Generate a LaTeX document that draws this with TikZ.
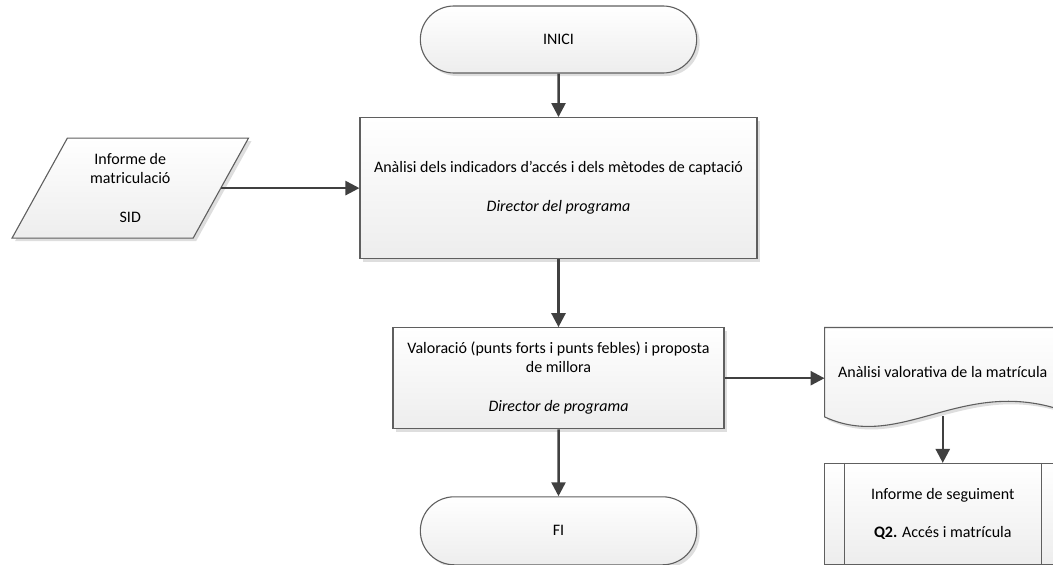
\documentclass[tikz,border=0pt]{standalone}
\usepackage{fontspec}
\setmainfont{Carlito}
\usetikzlibrary{shapes.misc,shapes.geometric,arrows.meta,positioning,shadows,backgrounds}
\definecolor{lineg}{RGB}{95,95,95}
\definecolor{arrowg}{RGB}{64,64,64}

\begin{document}
\begin{tikzpicture}[
    x=1pt, y=1pt,
    font=\fontsize{16}{19.5}\selectfont,
    shapefill/.style={draw=lineg, line width=1.1pt, top color=white, bottom color=black!7,
        drop shadow={shadow xshift=3pt, shadow yshift=-3pt, fill=black, opacity=.13}},
    terminal/.style={rounded rectangle, shapefill, minimum width=283pt, minimum height=67pt},
    block/.style={rectangle, shapefill, text centered, minimum height=101pt},
    data/.style={trapezium, trapezium left angle=63.4, trapezium right angle=116.6,
        trapezium stretches=true, shapefill, align=center, minimum width=237pt, minimum height=100pt},
    arrow/.style={-{Triangle[length=14pt,width=14pt]}, draw=arrowg, line width=2.5pt}
]
\useasboundingbox (0,0) rectangle (1053,-565);
\clip (0,0) rectangle (1053,-565);

\node[terminal] (inici) at (558.5,-39.5) {INICI};
\node[block, below=43.5pt of inici, minimum width=397pt, minimum height=141pt, align=center] (analisi)
    {Anàlisi dels indicadors d’accés i dels mètodes de captació\\[19.5pt]\textit{Director del programa}};
\node[data, left=138pt of analisi] (informe) {Informe de\\matriculació\\[19.5pt]SID};
\node[block, below=68pt of analisi, minimum width=331pt, align=center] (valor)
    {Valoració (punts forts i punts febles) i proposta\\de millora\\[19.5pt]\textit{Director de programa}};
\node[terminal, below=67pt of valor, minimum height=68pt] (fi) {FI};

% document shape (wavy bottom)
\node[rectangle, right=100pt of valor, minimum width=236pt, minimum height=101pt, inner sep=0pt] (doc)
    {\raisebox{12pt}{Anàlisi valorativa de la matrícula}};
\begin{scope}[on background layer]
\path[shapefill] ([yshift=12pt]doc.south west) -- (doc.north west) -- (doc.north east)
    -- ([yshift=19pt]doc.south east)
    .. controls ([xshift=-100pt,yshift=52pt]doc.south east) and ([xshift=76pt,yshift=-23pt]doc.south west)
    .. cycle;
\end{scope}
\coordinate (docb) at ([yshift=13pt]doc.south);

% predefined process
\node[block, below=34pt of doc, minimum width=236pt, align=center] (seguiment)
    {Informe de seguiment\\[18.5pt]\textbf{Q2.} Accés i matrícula};
\draw[lineg, line width=1.1pt] ([xshift=20pt]seguiment.north west) -- ([xshift=20pt]seguiment.south west);
\draw[lineg, line width=1.1pt] ([xshift=-20pt]seguiment.north east) -- ([xshift=-20pt]seguiment.south east);

\draw[arrow] (inici) -- (analisi);
\draw[arrow] (informe.east) -- (analisi.west);
\draw[arrow] (analisi) -- (valor);
\draw[arrow] (valor) -- (fi);
\draw[arrow] (valor.east) -- (doc.west);
\draw[arrow] (docb) -- (seguiment.north);
\end{tikzpicture}
\end{document}
